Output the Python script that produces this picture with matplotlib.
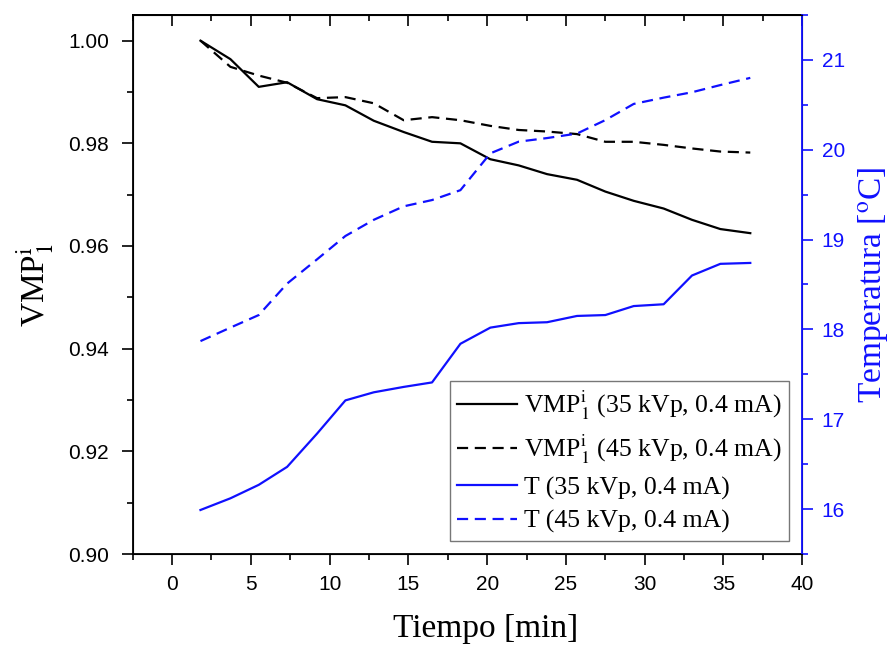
import matplotlib
matplotlib.use("Agg")
import matplotlib.pyplot as plt
from matplotlib.ticker import MultipleLocator

# tiempo [min]
tiempo = [1.8, 3.7, 5.5, 7.3, 9.2, 11.0, 12.8, 14.7, 16.5, 18.3,
          20.2, 22.0, 23.8, 25.7, 27.5, 29.3, 31.2, 33.0, 34.8, 36.7]

# VMP normalizado
vmp_35 = [1.000, 0.9964, 0.9910, 0.9919, 0.9886, 0.9874, 0.9844, 0.9822, 0.9803, 0.9800,
          0.9769, 0.9757, 0.9740, 0.9729, 0.9706, 0.9688, 0.9673, 0.9651, 0.9633, 0.9625]
vmp_45 = [1.000, 0.9949, 0.9932, 0.9918, 0.9888, 0.9890, 0.9878, 0.9845, 0.9851, 0.9845,
          0.9834, 0.9826, 0.9823, 0.9818, 0.9803, 0.9803, 0.9797, 0.9790, 0.9784, 0.9782]

# temperatura [C]
temp_35 = [15.99, 16.12, 16.27, 16.47, 16.84, 17.21, 17.30, 17.36, 17.41, 17.84,
           18.02, 18.07, 18.08, 18.15, 18.16, 18.26, 18.28, 18.60, 18.73, 18.74]
temp_45 = [17.87, 18.02, 18.16, 18.51, 18.78, 19.04, 19.22, 19.37, 19.44, 19.55,
           19.96, 20.09, 20.13, 20.18, 20.33, 20.51, 20.58, 20.64, 20.72, 20.80]

plt.rcParams['mathtext.fontset'] = 'stix'
serif = 'Liberation Serif'
sans = 'Liberation Sans'
blue = '#1010ff'

fig = plt.figure(figsize=(8.92, 6.46), dpi=100)
ax = fig.add_axes([0.1488, 0.1424, 0.7506, 0.8344])
ax2 = ax.twinx()

l1, = ax.plot(tiempo, vmp_35, color='black', lw=1.6,
              label=r'VMP$^{\mathrm{i}}_{\mathrm{1}}$ (35 kVp, 0.4 mA)')
l2, = ax.plot(tiempo, vmp_45, color='black', lw=1.6, dashes=(5, 3),
              label=r'VMP$^{\mathrm{i}}_{\mathrm{1}}$ (45 kVp, 0.4 mA)')
l3, = ax2.plot(tiempo, temp_35, color=blue, lw=1.6, label='T (35 kVp, 0.4 mA)')
l4, = ax2.plot(tiempo, temp_45, color=blue, lw=1.6, dashes=(5, 3), label='T (45 kVp, 0.4 mA)')

ax.set_xlim(-2.5, 40)
ax.set_ylim(0.90, 1.005)
ax2.set_ylim(15.5, 21.5)

ax.xaxis.set_major_locator(MultipleLocator(5))
ax.xaxis.set_minor_locator(MultipleLocator(2.5))
ax.yaxis.set_major_locator(MultipleLocator(0.02))
ax.yaxis.set_minor_locator(MultipleLocator(0.01))
ax2.yaxis.set_major_locator(MultipleLocator(1))
ax2.yaxis.set_minor_locator(MultipleLocator(0.5))
ax.yaxis.set_major_formatter(matplotlib.ticker.FormatStrFormatter('%.2f'))

ax.tick_params(which='major', length=8, width=1.2, direction='out', labelsize=15)
ax.tick_params(which='minor', length=4.5, width=1.2, direction='out')
ax.tick_params(axis='x', which='major', pad=7)
ax.tick_params(axis='y', which='major', pad=9)
for lab in ax.get_xticklabels() + ax.get_yticklabels():
    lab.set_family(sans)

# ticks arriba, hacia dentro
top = ax.secondary_xaxis('top')
top.xaxis.set_major_locator(MultipleLocator(5))
top.xaxis.set_minor_locator(MultipleLocator(2.5))
top.tick_params(which='major', direction='in', length=8, width=1.2, labeltop=False)
top.tick_params(which='minor', direction='in', length=4.5, width=1.2)

ax2.tick_params(which='major', length=8, width=1.2, direction='out', colors=blue,
                labelsize=15, pad=6)
ax2.tick_params(which='minor', length=4.5, width=1.2, direction='out', colors=blue)
for lab in ax2.get_yticklabels():
    lab.set_family(sans)
ax2.spines['right'].set_color(blue)
ax2.spines['right'].set_linewidth(1.3)
for s in ['left', 'bottom', 'top']:
    ax.spines[s].set_linewidth(1.3)
top.spines['top'].set_linewidth(1.3)

ax.set_xlabel('Tiempo [min]', fontsize=24, family=serif, labelpad=14)
ax.xaxis.label.set_x(0.527)
ax.set_ylabel(r'VMP$^{\mathrm{i}}_{\mathrm{1}}$', fontsize=24, family=serif, labelpad=9)
ax.yaxis.label.set_y(0.50)
ax2.set_ylabel(r'Temperatura [$^{\mathrm{o}}$C]', fontsize=24, family=serif, color=blue, labelpad=8)

leg = ax2.legend(handles=[l1, l2, l3, l4], loc='lower right', fancybox=False,
                 edgecolor='#777777', framealpha=1, borderaxespad=0.5,
                 prop={'family': serif, 'size': 18.5}, handlelength=2.3,
                 handletextpad=0.3, labelspacing=0.4, borderpad=0.3)
leg.get_frame().set_linewidth(1.0)

fig.savefig('out.png', dpi=100)
